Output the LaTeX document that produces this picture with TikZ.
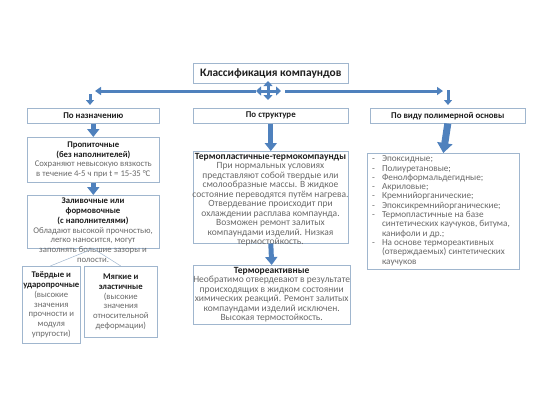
\documentclass[tikz,border=0pt]{standalone}
\usepackage{fontspec}
\setmainfont{Carlito}
\usetikzlibrary{arrows.meta,shadows}

\definecolor{boxline}{RGB}{160,182,206}
\definecolor{arrowblue}{RGB}{79,129,189}
\definecolor{bodygray}{RGB}{105,105,105}
\definecolor{headgray}{RGB}{30,30,30}
\newcommand{\hdline}[1]{\textcolor{headgray}{\bfseries #1}}

\begin{document}
\begin{tikzpicture}[x=1pt, y=-1pt,
        box/.style={draw=boxline, fill=white, line width=0.6pt, anchor=north west,
            inner sep=0pt, drop shadow={opacity=0.15, shadow xshift=0.8pt, shadow yshift=-0.8pt}},
        txt/.style={align=center, text=bodygray, inner sep=0pt, font=\fontsize{8.7}{9.7}\selectfont},
        midtxt/.style={txt, font=\fontsize{9.5}{9.5}\selectfont},
        hd/.style={text=headgray, font=\bfseries\fontsize{8.9}{10}\selectfont},
        blockarrow/.style={draw=arrowblue, line width=5pt, -{Triangle[width=12pt,length=8pt]}},
        bar/.style={draw=arrowblue, line width=3pt},
        twig/.style={draw=boxline, line width=0.5pt}
    ]
    \useasboundingbox (0,0) rectangle (540,405);

    \node[box, minimum width=155pt, minimum height=20pt, text=headgray,
        font=\bfseries\fontsize{11.4}{13}\selectfont] (title) at (193,63) {Классификация компаундов};

    \node[box, hd, minimum width=132pt, minimum height=15pt] (naz) at (27,108) {По назначению};
    \node[box, hd, minimum width=155pt, minimum height=15pt] (struct) at (193,108) {По структуре};
    \node[box, hd, minimum width=155pt, minimum height=15pt] (poly) at (370,108) {По виду полимерной основы};

    % hub and branches
    \coordinate (hub) at (268,91);
    \coordinate (lend) at (95,91);
    \coordinate (rbeg) at (285,91);
    \coordinate (rend) at (443,91);
    \coordinate (ldrop) at (90,94);
    \coordinate (lland) at (90,105);
    \coordinate (rdrop) at (448,90);
    \coordinate (rland) at (448,105);
    \draw[bar, {Triangle[width=9pt,length=5pt]}-{Triangle[width=9pt,length=5pt]}]
        ([xshift=-12pt]hub) -- ([xshift=13pt]hub);
    \draw[bar, {Triangle[width=9pt,length=5pt]}-{Triangle[width=9pt,length=5pt]}]
        ([yshift=-9pt]hub) -- ([yshift=10pt]hub);
    \draw[bar, -{Triangle[width=8pt,length=6pt]}] ([xshift=-12pt]hub) -- (lend);
    \draw[bar, -{Triangle[width=8pt,length=6pt]}] (rbeg) -- (rend);
    \draw[bar, -{Triangle[width=8pt,length=5pt]}] (ldrop) -- (lland);
    \draw[bar, -{Triangle[width=8pt,length=5pt]}] (rdrop) -- (rland);

    % left column
    \node[box, txt, minimum width=132pt, minimum height=45pt] (prop) at (27,137)
        {\hdline{Пропиточные}\\ \hdline{(без наполнителей)}\\
         Сохраняют невысокую вязкость\\ в течение 4-5 ч при t = 15-35 °C};
    \node[box, minimum width=132pt, minimum height=53pt] (zal) at (27,195) {};
    \node[txt, anchor=north] (zaltxt) at (93,198)
        {\hdline{Заливочные или}\\ \hdline{формовочные}\\ \hdline{(с наполнителями)}\\
         Обладают высокой прочностью,\\ легко наносится, могут\\
         заполнять большие зазоры и\\ полости.};
    \node[box, txt, minimum width=58pt, minimum height=77pt] (hard) at (22,266)
        {\hdline{Твёрдые и}\\ \hdline{ударопрочные}\\ (высокие\\ значения\\
         прочности и\\ модуля\\ упругости)};
    \node[box, txt, minimum width=73pt, minimum height=71pt] (soft) at (84,266)
        {\hdline{Мягкие и}\\ \hdline{эластичные}\\ (высокие\\ значения\\
         относительной\\ деформации)};
    \draw[twig] (zal.south) -- ([xshift=-1pt]hard.north);
    \draw[twig] (zal.south) -- (soft.north);
    \draw[blockarrow] (naz.south) -- (prop.north);
    \draw[blockarrow] (prop.south) -- (zal.north);

    % middle column
    \node[box, minimum width=155pt, minimum height=92pt] (tplast) at (193,151) {};
    \node[midtxt, anchor=north] (tplasttxt) at (270.5,153)
        {\hdline{Термопластичные-термокомпаунды}\\ При нормальных условиях\\
         представляют собой твердые или\\ смолообразные массы. В жидкое\\
         состояние переводятся путём нагрева.\\ Отвердевание происходит при\\
         охлаждении расплава компаунда.\\ Возможен ремонт залитых\\
         компаундами изделий. Низкая\\ термостойкость.};
    \node[box, midtxt, minimum width=155pt, minimum height=59pt] (treact) at (193,265)
        {\hdline{Термореактивные}\\ Необратимо отвердевают в результате\\
         происходящих в жидком состоянии\\ химических реакций. Ремонт залитых\\
         компаундами изделий исключен.\\ Высокая термостойкость.};
    \draw[blockarrow] (struct.south) -- (tplast.north);
    \draw[blockarrow] (tplast.south) -- (treact.north);

    % right column
    \node[box, minimum width=152pt, minimum height=116pt] (list) at (367,153) {};
    \node[txt, align=left, anchor=north west, font=\fontsize{9.2}{9.3}\selectfont] (listtxt) at (372,155)
        {\begin{tabular}{@{}l@{\hspace{7pt}}l@{}}
         - & Эпоксидные;\\
         - & Полиуретановые;\\
         - & Фенолформальдегидные;\\
         - & Акриловые;\\
         - & Кремнийорганические;\\
         - & Эпоксикремнийорганические;\\
         - & Термопластичные на базе\\
           & синтетических каучуков, битума,\\
           & канифоли и др.;\\
         - & На основе термореактивных\\
           & (отверждаемых) синтетических\\
           & каучуков
         \end{tabular}};
    \draw[blockarrow, line width=7pt, -{Triangle[width=15pt,length=10pt]}] (poly.south) -- (list.north);
\end{tikzpicture}
\end{document}
